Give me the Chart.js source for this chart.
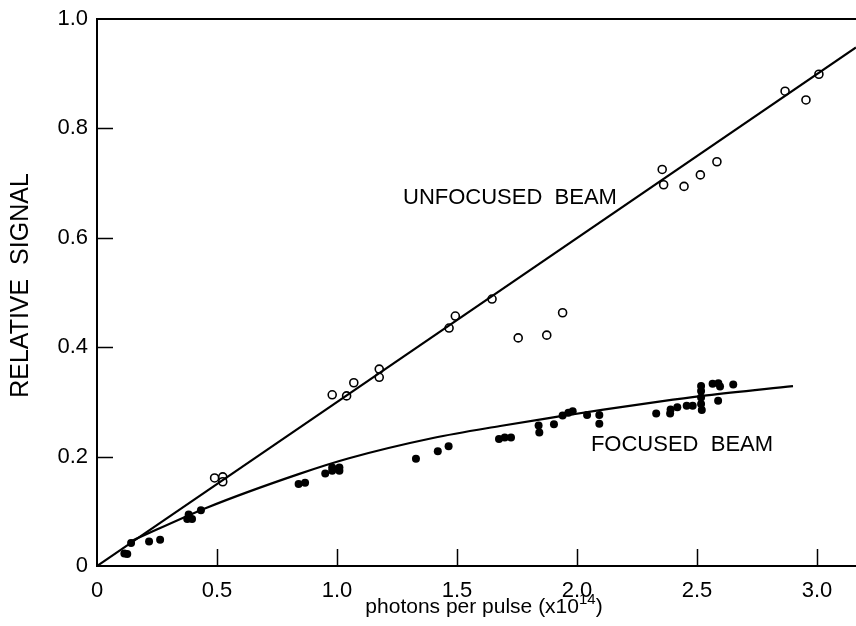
<!DOCTYPE html>
<html>
<head>
<meta charset="utf-8">
<script src="https://cdn.jsdelivr.net/npm/chart.js@4.4.1/dist/chart.umd.min.js"></script>
<style>
  body { margin: 0; background: #fff; }
  canvas { display: block; }
</style>
</head>
<body>
<canvas id="myChart" width="856" height="626"></canvas>
<script>
const ctx = document.getElementById("myChart");

// open circles - unfocused beam
const unfocusedX = [0.49, 0.524, 0.524, 0.98, 1.04, 1.07, 1.176, 1.176, 1.467, 1.493, 1.646, 1.755, 1.874, 1.94,
  2.355, 2.361, 2.446, 2.514, 2.583, 2.867, 2.954, 3.008];
const unfocusedY = [0.161, 0.163, 0.154, 0.313, 0.311, 0.335, 0.360, 0.345, 0.435, 0.457, 0.488, 0.417, 0.422, 0.463,
  0.725, 0.697, 0.694, 0.715, 0.739, 0.868, 0.852, 0.899];

// filled dots - focused beam
const focusedX = [0.114, 0.126, 0.142, 0.217, 0.263, 0.376, 0.396, 0.382, 0.433, 0.84, 0.867, 0.951, 0.98, 1.01, 0.98, 1.01,
  1.329, 1.42, 1.465, 1.675, 1.699, 1.725, 1.84, 1.843, 1.904, 1.94, 1.964, 1.982, 2.042, 2.093, 2.093,
  2.33, 2.388, 2.39, 2.418, 2.457, 2.482, 2.517, 2.517, 2.517, 2.517, 2.52, 2.565, 2.589, 2.596, 2.588, 2.651];
const focusedY = [0.023, 0.022, 0.042, 0.045, 0.048, 0.086, 0.086, 0.094, 0.102, 0.150, 0.152, 0.169, 0.180, 0.180, 0.174, 0.174,
  0.196, 0.210, 0.219, 0.232, 0.235, 0.235, 0.257, 0.244, 0.259, 0.275, 0.280, 0.283, 0.276, 0.276, 0.260,
  0.279, 0.279, 0.286, 0.290, 0.293, 0.293, 0.329, 0.320, 0.308, 0.296, 0.285, 0.333, 0.334, 0.328, 0.302, 0.332];

// fitted lines
const unfocusedFitX = [0, 3.1625];
const unfocusedFitY = [0, 0.948];
const focusedFitX = [0.14, 0.46, 0.84, 1.05, 1.40, 1.68, 1.92, 2.11, 2.40, 2.54, 2.90];
const focusedFitY = [0.045, 0.107, 0.168, 0.197, 0.234, 0.256, 0.273, 0.286, 0.304, 0.312, 0.329];

const xTicks = [0, 0.5, 1.0, 1.5, 2.0, 2.5, 3.0];
const yTicks = [0, 0.2, 0.4, 0.6, 0.8, 1.0];

const FONT = "'Liberation Sans', Arial, sans-serif";

function pts(xs, ys) {
  return xs.map((x, i) => ({ x: x, y: ys[i] }));
}
function fmt(v) {
  return v === 0 ? "0" : v.toFixed(1);
}

// axes box, inward tick marks, labels on the plot
const decoPlugin = {
  id: "deco",
  afterDraw(chart) {
    const c = chart.ctx;
    const a = chart.chartArea;
    const xs = chart.scales.x, ys = chart.scales.y;
    c.save();
    c.strokeStyle = "#000";
    c.lineWidth = 2;
    c.beginPath();
    c.moveTo(chart.width, a.top);
    c.lineTo(a.left, a.top);
    c.lineTo(a.left, a.bottom);
    c.lineTo(chart.width, a.bottom);
    c.stroke();

    c.lineWidth = 1.5;
    c.beginPath();
    yTicks.forEach(v => {
      if (v === 0 || v === 1) return;
      const py = Math.round(ys.getPixelForValue(v)) + 0.5;
      c.moveTo(a.left, py);
      c.lineTo(a.left + 16, py);
    });
    xTicks.forEach(v => {
      if (v === 0) return;
      const px = Math.round(xs.getPixelForValue(v)) + 0.5;
      c.moveTo(px, a.bottom);
      c.lineTo(px, a.bottom - 17);
    });
    c.stroke();

    c.fillStyle = "#000";
    c.textBaseline = "middle";
    c.textAlign = "left";
    c.font = "22px " + FONT;
    c.fillText("UNFOCUSED  BEAM", xs.getPixelForValue(1.275), ys.getPixelForValue(0.673));
    c.fillText("FOCUSED  BEAM", xs.getPixelForValue(2.058), ys.getPixelForValue(0.221));

    // x axis title with superscript
    const t1 = "photons per pulse (x10", t2 = "14", t3 = ")";
    c.font = "21px " + FONT;
    const w1 = c.measureText(t1).width;
    const w3 = c.measureText(t3).width;
    c.font = "15px " + FONT;
    const w2 = c.measureText(t2).width;
    const total = w1 + w2 + w3;
    let x0 = 484 - total / 2;
    const yb = 613;
    c.textBaseline = "alphabetic";
    c.font = "21px " + FONT;
    c.fillText(t1, x0, yb);
    c.font = "15px " + FONT;
    c.fillText(t2, x0 + w1, yb - 9);
    c.font = "21px " + FONT;
    c.fillText(t3, x0 + w1 + w2, yb);

    // y axis title
    c.translate(21, (a.top + a.bottom) / 2 - 7);
    c.rotate(-Math.PI / 2);
    c.textAlign = "center";
    c.textBaseline = "middle";
    c.font = "25px " + FONT;
    c.fillText("RELATIVE  SIGNAL", 0, 0);
    c.restore();
  }
};

var graphData = {
  type: "scatter",
  data: {
    datasets: [
      {
        label: "unfocused fit",
        data: pts(unfocusedFitX, unfocusedFitY),
        showLine: true,
        borderColor: "#000",
        borderWidth: 2.2,
        pointRadius: 0,
      },
      {
        label: "focused fit",
        data: pts(focusedFitX, focusedFitY),
        showLine: true,
        cubicInterpolationMode: "monotone",
        borderColor: "#000",
        borderWidth: 2.2,
        pointRadius: 0,
      },
      {
        label: "unfocused beam",
        data: pts(unfocusedX, unfocusedY),
        pointRadius: 4,
        pointBorderWidth: 1.6,
        borderColor: "#000",
        backgroundColor: "#fff",
      },
      {
        label: "focused beam",
        data: pts(focusedX, focusedY),
        pointRadius: 4,
        pointBorderWidth: 0,
        borderColor: "#000",
        backgroundColor: "#000",
      },
    ],
  },
  options: {
    responsive: false,
    animation: false,
    devicePixelRatio: 1,
    layout: { autoPadding: false, padding: { top: 19, right: 0, left: 0, bottom: 0 } },
    plugins: {
      legend: { display: false },
      tooltip: { enabled: false },
    },
    scales: {
      x: {
        type: "linear",
        min: 0,
        max: 3.1625,
        afterFit: (s) => { s.height = 60; s.paddingLeft = 0; s.paddingRight = 0; },
        afterBuildTicks: (s) => { s.ticks = xTicks.map(v => ({ value: v })); },
        grid: { display: false, drawTicks: false },
        border: { display: false },
        ticks: {
          padding: 12,
          color: "#000",
          font: { family: FONT, size: 22 },
          maxRotation: 0,
          callback: (v) => fmt(v),
        },
      },
      y: {
        min: 0,
        max: 1.0,
        afterFit: (s) => { s.width = 97; s.paddingTop = 0; s.paddingBottom = 0; },
        afterBuildTicks: (s) => { s.ticks = yTicks.map(v => ({ value: v })); },
        grid: { display: false, drawTicks: false },
        border: { display: false },
        ticks: {
          padding: 9,
          color: "#000",
          font: { family: FONT, size: 22 },
          callback: (v) => fmt(v),
        },
      },
    },
  },
  plugins: [decoPlugin],
};
var myChart = new Chart(ctx, graphData);
</script>
</body>
</html>
